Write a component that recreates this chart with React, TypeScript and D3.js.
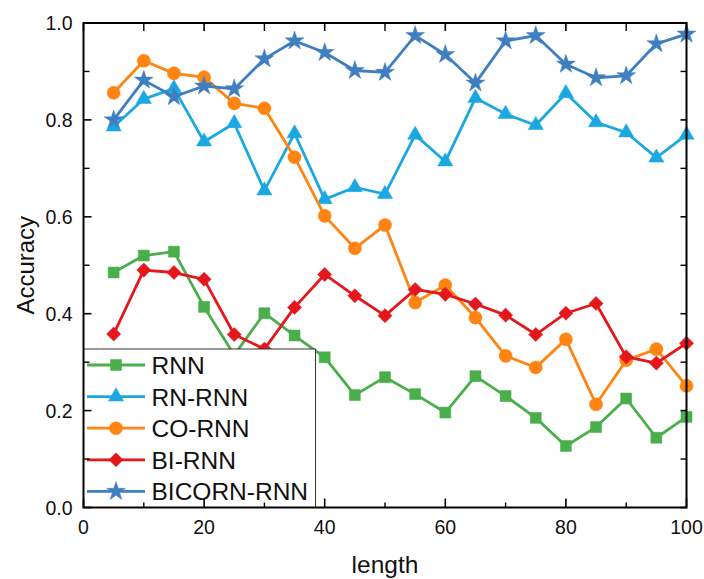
import React from "react";
import * as d3 from "d3";

const lengths = [5, 10, 15, 20, 25, 30, 35, 40, 45, 50, 55, 60, 65, 70, 75, 80, 85, 90, 95, 100];
const rnn = [0.485, 0.52, 0.528, 0.414, 0.315, 0.401, 0.355, 0.31, 0.232, 0.269, 0.234, 0.196, 0.271, 0.23, 0.185, 0.127, 0.166, 0.225, 0.144, 0.187];
const rnRnn = [0.786, 0.843, 0.865, 0.755, 0.793, 0.654, 0.772, 0.636, 0.661, 0.647, 0.769, 0.714, 0.845, 0.812, 0.789, 0.855, 0.795, 0.774, 0.722, 0.769];
const coRnn = [0.856, 0.922, 0.896, 0.888, 0.834, 0.824, 0.723, 0.602, 0.535, 0.583, 0.423, 0.459, 0.392, 0.313, 0.289, 0.347, 0.213, 0.304, 0.327, 0.251];
const biRnn = [0.358, 0.49, 0.485, 0.471, 0.357, 0.327, 0.413, 0.481, 0.437, 0.396, 0.45, 0.44, 0.42, 0.397, 0.357, 0.401, 0.421, 0.311, 0.298, 0.339];
const bicornRnn = [0.8, 0.882, 0.848, 0.87, 0.864, 0.926, 0.963, 0.939, 0.902, 0.898, 0.974, 0.935, 0.876, 0.963, 0.974, 0.915, 0.887, 0.891, 0.957, 0.977];

const seriesNames = ["RNN", "RN-RNN", "CO-RNN", "BI-RNN", "BICORN-RNN"];
const seriesValues = [rnn, rnRnn, coRnn, biRnn, bicornRnn];
const seriesColors = ["#4aae4a", "#1ba8e0", "#ff8412", "#e3171c", "#3f7fc0"];
const seriesMarkers = ["square", "triangle", "circle", "diamond", "star"];

const xTicks = [0, 20, 40, 60, 80, 100];
const xMinorTicks = [10, 30, 50, 70, 90];
const yTicks = [0, 0.2, 0.4, 0.6, 0.8, 1.0];
const yMinorTicks = [0.1, 0.3, 0.5, 0.7, 0.9];

const W = 704, H = 579;
const L = 83.5, R = 686.5, T = 23, B = 507.5;
const FONT = "'Liberation Sans', Arial, sans-serif";

function markerPath(kind: string): string {
  switch (kind) {
    case "square": return d3.symbol(d3.symbolSquare, 121)() || "";
    case "triangle": return d3.symbol(d3.symbolTriangle, 100)() || "";
    case "circle": return d3.symbol(d3.symbolCircle, 135)() || "";
    case "diamond": return d3.symbol(d3.symbolSquare, 100)() || "";
    case "star": return d3.symbol(d3.symbolStar, 110)() || "";
  }
  return "";
}

export default function App() {
  const x = d3.scaleLinear().domain([0, 100]).range([L, R]);
  const y = d3.scaleLinear().domain([0, 1]).range([B, T]);
  const line = d3.line<number>().x((_, i) => x(lengths[i])).y((v) => y(v));

  const legX = L, legY = 349, legW = 232, legH = B - 349;
  const rowY = (i: number) => 365 + i * 31.6;

  const renderMarker = (kind: string, cx: number, cy: number, color: string, key: any) => (
    <path key={key} d={markerPath(kind)} fill={color} stroke={color} strokeWidth={0.5}
      transform={`translate(${cx},${cy})${kind === "diamond" ? " rotate(45)" : ""}`} />
  );

  return (
    <svg width={W} height={H} style={{ position: "absolute", left: 0, top: 0, background: "#fff" }}>
      <rect x={0} y={0} width={W} height={H} fill="#fff" />
      {seriesValues.map((vals, si) => (
        <g key={si}>
          <path d={line(vals) || ""} fill="none" stroke={seriesColors[si]} strokeWidth={2.8} strokeLinejoin="round" />
          {vals.map((v, i) => renderMarker(seriesMarkers[si], x(lengths[i]), y(v), seriesColors[si], i))}
        </g>
      ))}
      {/* legend */}
      <rect x={legX} y={legY} width={legW} height={legH} fill="#fff" stroke="#333" strokeWidth={1} />
      {seriesNames.map((n, i) => (
        <g key={n}>
          <line x1={87} x2={145} y1={rowY(i)} y2={rowY(i)} stroke={seriesColors[i]} strokeWidth={2.8} />
          {renderMarker(seriesMarkers[i], 116, rowY(i), seriesColors[i], "m")}
          <text x={151.5} y={rowY(i) + 9} fontFamily={FONT} fontSize={24.5} fill="#111">{n}</text>
        </g>
      ))}
      {/* frame */}
      <rect x={L} y={T} width={R - L} height={B - T} fill="none" stroke="#000" strokeWidth={2} />
      {/* x ticks */}
      {xTicks.map((t) => (
        <g key={"xt" + t}>
          <line x1={x(t)} x2={x(t)} y1={B} y2={B - 9} stroke="#000" strokeWidth={1.6} />
          <line x1={x(t)} x2={x(t)} y1={T} y2={T + 8} stroke="#000" strokeWidth={1.6} />
          <text x={x(t)} y={534} textAnchor="middle" fontFamily={FONT} fontSize={19.5} fill="#111">{t}</text>
        </g>
      ))}
      {xMinorTicks.map((t) => (
        <g key={"xm" + t}>
          <line x1={x(t)} x2={x(t)} y1={B} y2={B - 5} stroke="#000" strokeWidth={1.4} />
          <line x1={x(t)} x2={x(t)} y1={T} y2={T + 8} stroke="#000" strokeWidth={1.4} />
        </g>
      ))}
      {/* y ticks */}
      {yTicks.map((t) => (
        <g key={"yt" + t}>
          <line x1={L} x2={L + 8} y1={y(t)} y2={y(t)} stroke="#000" strokeWidth={1.6} />
          <line x1={R} x2={R - 6} y1={y(t)} y2={y(t)} stroke="#000" strokeWidth={1.6} />
          <text x={72.5} y={y(t) + 7} textAnchor="end" fontFamily={FONT} fontSize={19.5} fill="#111">{t.toFixed(1)}</text>
        </g>
      ))}
      {yMinorTicks.map((t) => (
        <g key={"ym" + t}>
          <line x1={L} x2={L + 6} y1={y(t)} y2={y(t)} stroke="#000" strokeWidth={1.4} />
          <line x1={R} x2={R - 6} y1={y(t)} y2={y(t)} stroke="#000" strokeWidth={1.4} />
        </g>
      ))}
      <text x={(L + R) / 2} y={573} textAnchor="middle" fontFamily={FONT} fontSize={24.5} fill="#111">length</text>
      <text transform={`translate(34,${(T + B) / 2}) rotate(-90)`} textAnchor="middle" fontFamily={FONT} fontSize={24} fill="#111">Accuracy</text>
    </svg>
  );
}
